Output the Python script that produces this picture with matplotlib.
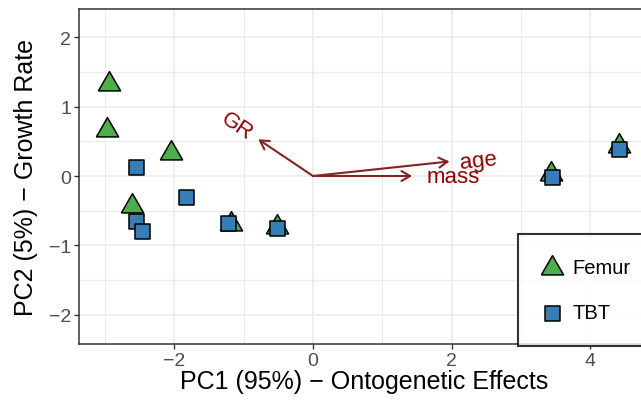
import matplotlib
matplotlib.use("Agg")
import matplotlib.pyplot as plt
import numpy as np

plt.rcParams['font.family'] = ['Liberation Sans', 'DejaVu Sans']

# PCA scores
femur_pc1 = [-2.94, -2.98, -2.05, -2.61, -1.19, -0.52, 3.44, 4.42]
femur_pc2 = [1.33, 0.66, 0.33, -0.43, -0.69, -0.73, 0.03, 0.44]
tbt_pc1 = [-2.55, -2.56, -2.47, -1.84, -1.22, -0.52, 3.45, 4.42]
tbt_pc2 = [0.13, -0.65, -0.80, -0.30, -0.68, -0.75, -0.02, 0.39]

# loading arrows
var_names = ["GR", "age", "mass"]
var_x = [-0.79, 1.97, 1.43]
var_y = [0.53, 0.21, 0.00]
label_x = [-1.10, 2.39, 2.02]
label_y = [0.73, 0.22, -0.01]

x_ticks = [-2, 0, 2, 4]
y_ticks = [-2, -1, 0, 1, 2]

W, H = 641, 406
fig = plt.figure(figsize=(W / 100, H / 100), dpi=100)
ax = fig.add_axes([79 / W, (H - 345) / H, (650 - 79) / W, (345 - 9.5) / H])

ax.set_xlim(-3.377, 4.863)
ax.set_ylim(-2.424, 2.417)

ax.set_xticks(x_ticks)
ax.set_yticks(y_ticks)
ax.set_xticks([-3, -1, 1, 3], minor=True)
ax.set_yticks([-1.5, -0.5, 0.5, 1.5], minor=True)
ax.set_xticklabels(["\u22122", "0", "2", "4"])
ax.set_yticklabels(["\u22122", "\u22121", "0", "1", "2"])
ax.grid(True, which='major', color='#EBEBEB', lw=1.2)
ax.grid(True, which='minor', color='#EBEBEB', lw=0.8)
ax.set_axisbelow(True)
ax.tick_params(which='major', direction='out', length=3.3, width=1.0,
               color='#333333', labelcolor='#4D4D4D', labelsize=14, pad=2.5)
ax.tick_params(which='minor', length=0)
for s in ax.spines.values():
    s.set_color('#333333')
    s.set_linewidth(1.1)

# triangle shaped like ggplot's (equilateral)
tri = [(-1, -0.577), (1, -0.577), (0, 1.155), (-1, -0.577)]
ax.scatter(femur_pc1, femur_pc2, marker=tri, s=18.5 ** 2, c='#4DAF4A',
           edgecolors='black', linewidths=1.1, zorder=3, label='Femur')
ax.scatter(tbt_pc1, tbt_pc2, marker='s', s=10.8 ** 2, c='#377EB8',
           edgecolors='black', linewidths=1.1, zorder=4, label='TBT')

for i in range(len(var_names)):
    ax.annotate("", xy=(var_x[i], var_y[i]), xytext=(0, 0),
                arrowprops=dict(arrowstyle='->,head_length=0.62,head_width=0.36',
                                mutation_scale=10, color='#832424', lw=1.5,
                                shrinkA=0, shrinkB=0), zorder=2)
    ang = np.degrees(np.arctan(var_y[i] / var_x[i]))
    ax.text(label_x[i], label_y[i], var_names[i], color='darkred', fontsize=16,
            rotation=ang, rotation_mode='anchor', ha='center', va='center', zorder=2)

ax.set_xlabel("PC1 (95%) \u2212 Ontogenetic Effects", fontsize=18, color='black')
ax.set_ylabel("PC2 (5%) \u2212 Growth Rate", fontsize=18, color='black')
ax.xaxis.set_label_coords(0.5, (345 - 382) / 335.5)
ax.xaxis.label.set_va('center')
ax.yaxis.set_label_coords((26 - 79) / 571, 0.5)
ax.yaxis.label.set_va('center')

leg = ax.legend(loc='upper left', bbox_to_anchor=(518 / W, (H - 341) / H, 160 / W, 106 / H),
                bbox_transform=fig.transFigure, mode='expand', borderaxespad=0,
                fontsize=14.5, frameon=True, fancybox=False, borderpad=1.2,
                labelspacing=1.28, handlelength=0.95, handletextpad=0.54)
leg.get_frame().set_edgecolor('black')
leg.get_frame().set_linewidth(1.5)

fig.savefig("out.png", dpi=100)
